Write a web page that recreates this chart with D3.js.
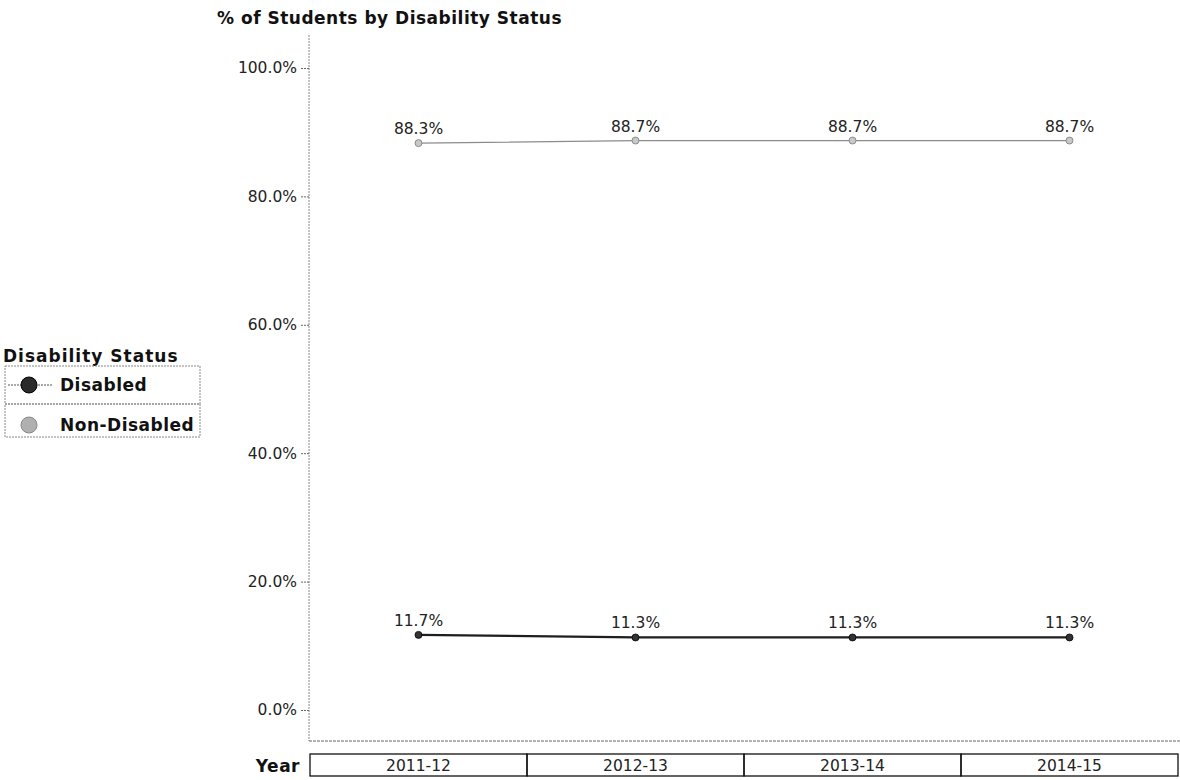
<!doctype html>
<html>
<head>
  <meta charset="utf-8">
  <title>% of Students by Disability Status</title>
  <script src="https://d3js.org/d3.v7.min.js"></script>
  <style>
    body { margin:0; background:#fff; }
    svg { display:block; }
    .tick text { font-family:"DejaVu Sans", Verdana, sans-serif; font-size:15.5px; fill:#222; }
    .bold { font-family:"DejaVu Sans", Verdana, sans-serif; font-weight:bold; fill:#111; font-size:17px; letter-spacing:0.5px; }
    .lbl { font-family:"DejaVu Sans", Verdana, sans-serif; font-size:15.5px; fill:#222; }
  </style>
</head>
<body>
  <svg id="chart" width="1180" height="780"></svg>
  <script>
    const years      = ["2011-12", "2012-13", "2013-14", "2014-15"];
    const disabled   = [11.7, 11.3, 11.3, 11.3];
    const nonDisabled= [88.3, 88.7, 88.7, 88.7];
    const yTicks     = [0, 20, 40, 60, 80, 100];
    const seriesNames= ["Disabled", "Non-Disabled"];
    const seriesCols = ["#1e1e1e", "#8c8c8c"];

    const svg = d3.select("#chart");
    const plotL = 309, plotR = 1182, plotT = 35, plotB = 741;

    const x = d3.scaleBand().domain(years).range([plotL + 1, plotR - 4]);
    const y = d3.scaleLinear().domain([0, 100]).range([710, 68]);

    // title
    svg.append("text").attr("class","bold").attr("x", 217).attr("y", 24)
      .text("% of Students by Disability Status");

    // plot frame (dotted left and bottom)
    svg.append("line").attr("x1", plotL).attr("x2", plotL).attr("y1", plotT).attr("y2", plotB)
      .attr("stroke","#888").attr("stroke-dasharray","2,1");
    svg.append("line").attr("x1", plotL).attr("x2", plotR).attr("y1", plotB).attr("y2", plotB)
      .attr("stroke","#666").attr("stroke-dasharray","3,1");

    const yAxis = svg.append("g").attr("transform", `translate(${plotL},0)`)
      .call(d3.axisLeft(y).tickValues(yTicks).tickSize(8).tickPadding(4)
        .tickFormat(d => d.toFixed(1) + "%"));
    yAxis.select(".domain").remove();
    yAxis.selectAll(".tick line").attr("stroke","#666").attr("stroke-dasharray","2,1");

    // year header row
    svg.append("text").attr("class","bold").attr("x", 300).attr("y", 772)
      .attr("text-anchor","end").text("Year");
    const cells = svg.append("g");
    cells.selectAll("rect").data(years).join("rect")
      .attr("x", d => x(d)).attr("y", 754)
      .attr("width", x.bandwidth()).attr("height", 22)
      .attr("fill","none").attr("stroke","#111").attr("stroke-width",1.3);
    cells.selectAll("text").data(years).join("text")
      .attr("class","lbl").attr("x", d => x(d) + x.bandwidth() / 2).attr("y", 771)
      .attr("text-anchor","middle").text(d => d);

    const series = [
      { name: seriesNames[0], values: disabled, color: seriesCols[0], width: 2.2 },
      { name: seriesNames[1], values: nonDisabled, color: seriesCols[1], width: 1.2 }
    ];
    const cx = d => x(d) + x.bandwidth() / 2;
    const line = d3.line().x((d, i) => cx(years[i])).y(d => y(d));

    series.forEach((s, si) => {
      const g = svg.append("g");
      g.append("path").datum(s.values).attr("d", line)
        .attr("fill","none").attr("stroke", s.color).attr("stroke-width", s.width);
      g.selectAll("circle").data(s.values).join("circle")
        .attr("cx", (d, i) => cx(years[i])).attr("cy", d => y(d)).attr("r", 3.5)
        .attr("fill", si === 0 ? "#333" : "#c8c8c8").attr("stroke", si === 0 ? "#000" : "#777")
        .attr("stroke-width", 0.8);
      g.selectAll("text").data(s.values).join("text")
        .attr("class","lbl").attr("x", (d, i) => cx(years[i])).attr("y", d => y(d) - 9)
        .attr("text-anchor","middle").text(d => d.toFixed(1) + "%");
    });

    // legend
    const lg = svg.append("g");
    lg.append("text").attr("class","bold").attr("x", 3).attr("y", 362)
      .style("letter-spacing","1px").text("Disability Status");
    series.forEach((s, i) => {
      const ry = 366 + i * 38;
      lg.append("rect").attr("x", 5).attr("y", ry).attr("width", 195).attr("height", i === 0 ? 38 : 33)
        .attr("fill","none").attr("stroke","#888").attr("stroke-dasharray","2,1");
      if (i === 0) {
        lg.append("line").attr("x1", 8).attr("x2", 52).attr("y1", ry + 19).attr("y2", ry + 19)
          .attr("stroke","#555").attr("stroke-dasharray","2,1");
      }
      const cy = i === 0 ? ry + 19 : ry + 21;
      lg.append("circle").attr("cx", 29).attr("cy", cy).attr("r", 8)
        .attr("fill", i === 0 ? "#2a2a2a" : "#b0b0b0").attr("stroke", i === 0 ? "#000" : "#888");
      lg.append("text").attr("class","bold").attr("x", 60).attr("y", cy + 6).text(s.name);
    });
  </script>
</body>
</html>
